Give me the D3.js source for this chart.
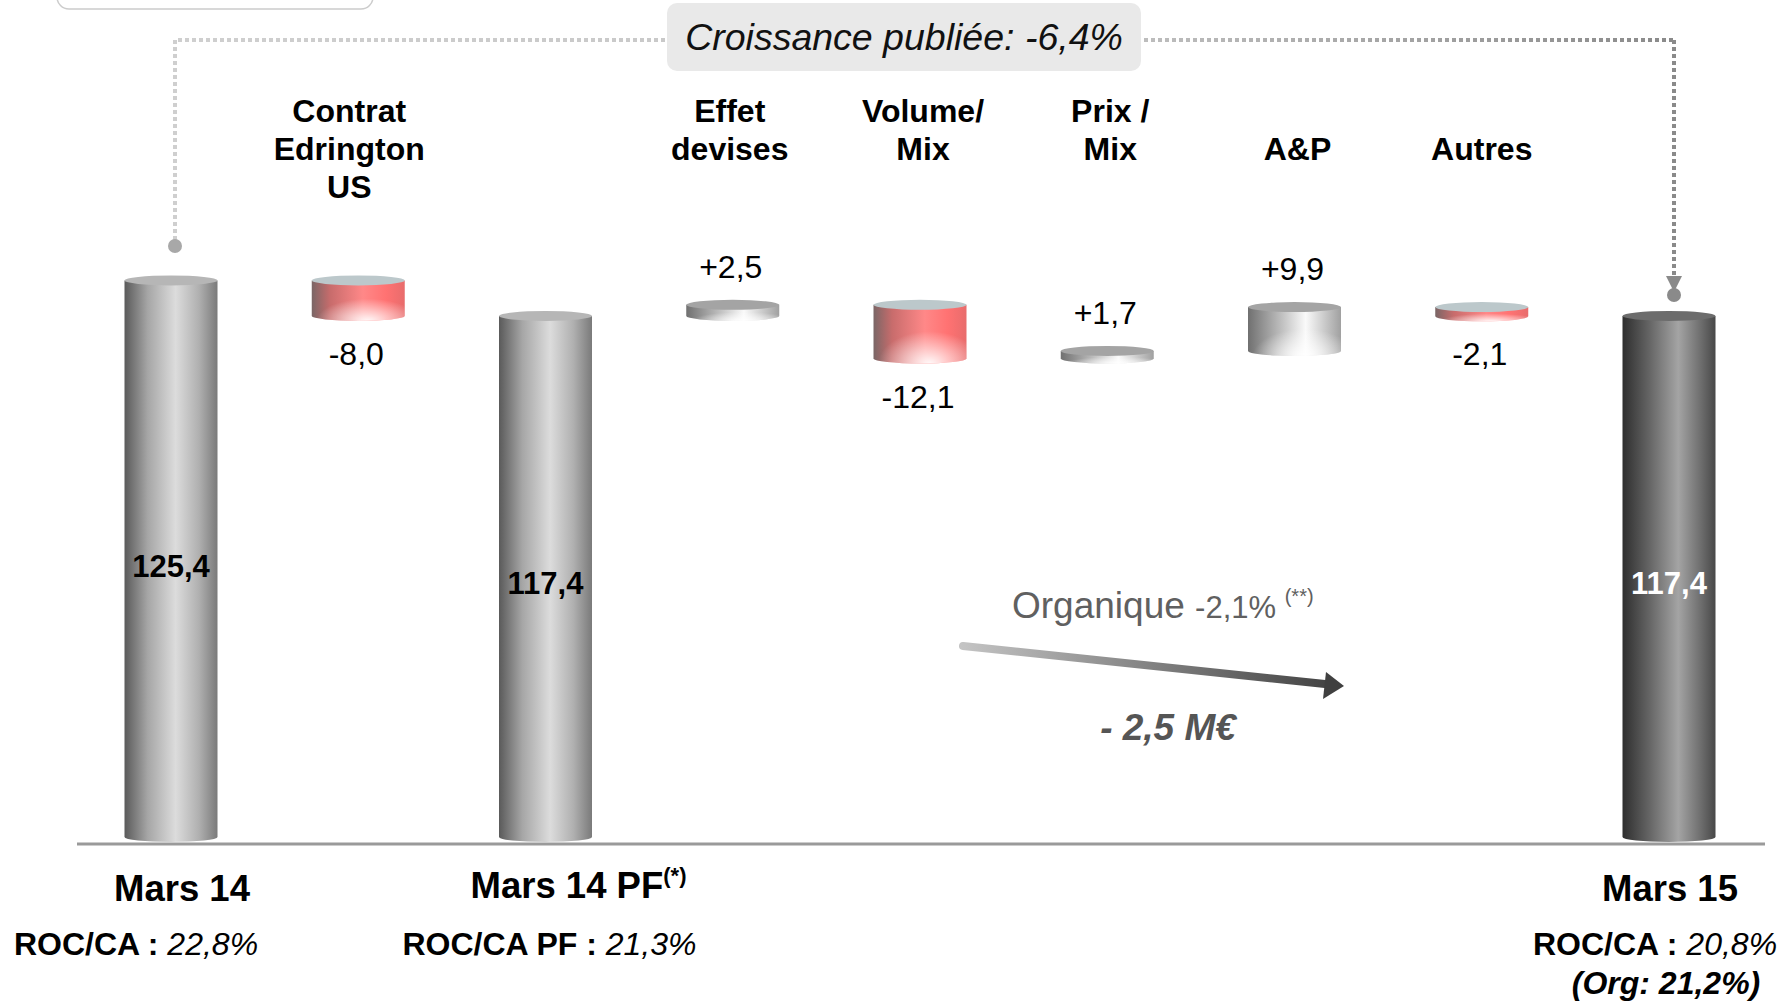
<!DOCTYPE html>
<html>
<head>
<meta charset="utf-8">
<script src="https://cdn.jsdelivr.net/npm/d3@7"></script>
<style>
  html, body { margin: 0; padding: 0; background: #fff; }
  svg { display: block; font-family: "Liberation Sans", Arial, sans-serif; }
</style>
</head>
<body>
<svg id="chart" width="1791" height="1001"></svg>
<script>
// Bridge of operating profit (M€), March 14 -> March 15
const categories = ["Mars 14", "Contrat Edrington US", "Mars 14 PF", "Effet devises",
                    "Volume/ Mix", "Prix / Mix", "A&P", "Autres", "Mars 15"];
const kinds  = ["total", "delta", "total", "delta", "delta", "delta", "delta", "delta", "final"];
const values = [125.4, -8.0, 117.4, 2.5, -12.1, 1.7, 9.9, -2.1, 117.4];

const headerLines = [[], ["Contrat", "Edrington", "US"], [], ["Effet", "devises"],
                     ["Volume/", "Mix"], ["Prix /", "Mix"], ["", "A&P"], ["", "Autres"], []];

const footerTitles = [
  { cat: "Mars 14",    text: "Mars 14",    sup: "" },
  { cat: "Mars 14 PF", text: "Mars 14 PF", sup: "(*)" },
  { cat: "Mars 15",    text: "Mars 15",    sup: "" }
];
const ratioLabels = [
  { cat: "Mars 14",    bold: "ROC/CA : ",    ital: "22,8%" },
  { cat: "Mars 14 PF", bold: "ROC/CA PF : ", ital: "21,3%" },
  { cat: "Mars 15",    bold: "ROC/CA : ",    ital: "20,8%" }
];
const organicNote   = "(Org: 21,2%)";
const publishedText = "Croissance publiée: -6,4%";
const organicText   = ["Organique", "-2,1%", "(**)"];
const organicAmount = "- 2,5 M€";

const fr = d3.formatLocale({ decimal: ",", thousands: " ", grouping: [3], currency: ["", " €"], minus: "-" });
const fmtTotal = fr.format(".1f");
const fmtDelta = fr.format("+.1f");

const svg = d3.select("#chart");
const defs = svg.append("defs");

const y = d3.scaleLinear().domain([0, 130]).range([837, 260]);
const x = d3.scalePoint().domain(categories).range([171, 1669]);
const BW = 93, RY = 5;

// waterfall steps
let running = 0;
const steps = categories.map((c, i) => {
  let start, end;
  if (kinds[i] === "delta") { start = running; end = running + values[i]; }
  else { start = 0; end = values[i]; }
  running = end;
  const type = kinds[i] === "delta" ? (values[i] < 0 ? "neg" : "pos") : kinds[i];
  return { cat: c, i, start, end, value: values[i], type };
});

// gradients
function hGrad(id, stops) {
  const g = defs.append("linearGradient").attr("id", id)
    .attr("x1", 0).attr("x2", 1).attr("y1", 0).attr("y2", 0);
  stops.forEach(([o, c]) => g.append("stop").attr("offset", o).attr("stop-color", c));
}
hGrad("g-total", [[0, "#5a5a5a"], [0.25, "#a6a6a6"], [0.55, "#dcdcdc"], [0.8, "#b0b0b0"], [1, "#7a7a7a"]]);
hGrad("g-final", [[0, "#2e2e2e"], [0.3, "#676767"], [0.6, "#a4a4a4"], [0.85, "#6c6c6c"], [1, "#484848"]]);
hGrad("g-pos",   [[0, "#707070"], [0.35, "#bdbdbd"], [0.62, "#fafafa"], [1, "#a0a0a0"]]);
hGrad("g-neg",   [[0, "#7a6666"], [0.2, "#c86c6c"], [0.55, "#ff8888"], [0.8, "#ff7272"], [1, "#e86c6c"]]);
const rg = defs.append("radialGradient").attr("id", "g-glow")
  .attr("cx", 0.6).attr("cy", 1).attr("r", 0.55);
rg.append("stop").attr("offset", 0).attr("stop-color", "#fff").attr("stop-opacity", 0.95);
rg.append("stop").attr("offset", 1).attr("stop-color", "#fff").attr("stop-opacity", 0);
const topColor = { total: "#b6b6b6", final: "#6c6c6c", pos: "#a4a4a4", neg: "#bcc8cb" };

function bodyPath(cx, yTop, yBot) {
  const l = cx - BW / 2, r = cx + BW / 2;
  return `M${l},${yTop} L${l},${yBot} A${BW / 2},${RY} 0 0 0 ${r},${yBot} L${r},${yTop} Z`;
}

// baseline
svg.append("line").attr("x1", 77).attr("x2", 1765).attr("y1", 844).attr("y2", 844)
  .attr("stroke", "#9a9a9a").attr("stroke-width", 3);

// cylinders
const bars = svg.append("g").selectAll("g").data(steps).join("g");
bars.each(function (d) {
  const g = d3.select(this);
  const cx = x(d.cat);
  const yTop = y(Math.max(d.start, d.end));
  const yBot = y(Math.min(d.start, d.end));
  g.append("path").attr("d", bodyPath(cx, yTop, yBot)).attr("fill", `url(#g-${d.type})`);
  if (d.type === "pos" || d.type === "neg") {
    g.append("path").attr("d", bodyPath(cx, yTop, yBot)).attr("fill", "url(#g-glow)");
  }
  g.append("ellipse").attr("cx", cx).attr("cy", yTop).attr("rx", BW / 2).attr("ry", RY)
    .attr("fill", topColor[d.type]);
});

// values on totals
svg.append("g").selectAll("text").data(steps.filter(d => d.type === "total" || d.type === "final")).join("text")
  .attr("x", d => x(d.cat)).attr("y", d => (y(d.end) + y(0)) / 2 + 18)
  .attr("text-anchor", "middle").attr("font-size", 31).attr("font-weight", "bold")
  .attr("fill", d => d.type === "final" ? "#fff" : "#000")
  .text(d => fmtTotal(d.value));

// values on deltas
svg.append("g").selectAll("text").data(steps.filter(d => d.type === "pos" || d.type === "neg")).join("text")
  .attr("x", d => x(d.cat) - 2)
  .attr("y", d => d.value >= 0 ? y(d.end) - RY - 22 : y(d.end) + RY + 44)
  .attr("text-anchor", "middle").attr("font-size", 32).attr("fill", "#000")
  .text(d => fmtDelta(d.value));

// category headers
const hdr = svg.append("g");
const headerShift = [0, -9, 0, -3, 3, 3, 3, 0, 0];
categories.forEach((c, i) => {
  headerLines[i].forEach((line, k) => {
    if (!line) return;
    hdr.append("text").attr("x", x(c) + headerShift[i]).attr("y", 122 + k * 38)
      .attr("text-anchor", "middle").attr("font-size", 32).attr("font-weight", "bold")
      .attr("fill", "#000").text(line);
  });
});

// footer titles
const ft = svg.append("g");
footerTitles.forEach(f => {
  const offs = f.sup ? 33 : (f.cat === "Mars 15" ? 1 : 11);
  const t = ft.append("text").attr("x", x(f.cat) + offs).attr("y", f.sup ? 898 : 901)
    .attr("text-anchor", "middle").attr("font-size", 36.5).attr("font-weight", "bold").attr("fill", "#000");
  t.append("tspan").text(f.text);
  if (f.sup) t.append("tspan").attr("font-size", 22).attr("dy", -15).text(f.sup);
});
ratioLabels.forEach((r, i) => {
  const offs = [-35, 4, -14][i];
  const t = ft.append("text").attr("x", x(r.cat) + offs).attr("y", 955)
    .attr("text-anchor", "middle").attr("font-size", 32).attr("fill", "#000");
  t.append("tspan").attr("font-weight", "bold").text(r.bold);
  t.append("tspan").attr("font-style", "italic").text(r.ital);
});
ft.append("text").attr("x", x("Mars 15") - 3).attr("y", 994)
  .attr("text-anchor", "middle").attr("font-size", 32).attr("font-weight", "bold")
  .attr("font-style", "italic").attr("fill", "#000").text(organicNote);

// published growth connector
const lx = x("Mars 14") + 4, rx = x("Mars 15") + 5, topY = 40;
const lg = defs.append("linearGradient").attr("id", "g-conn").attr("gradientUnits", "userSpaceOnUse")
  .attr("x1", lx).attr("x2", rx).attr("y1", 0).attr("y2", 0);
lg.append("stop").attr("offset", 0).attr("stop-color", "#cfcfcf");
lg.append("stop").attr("offset", 0.6).attr("stop-color", "#c4c4c4");
lg.append("stop").attr("offset", 1).attr("stop-color", "#8a8a8a");
svg.append("path").attr("d", `M${lx},240 L${lx},${topY} L${rx},${topY}`)
  .attr("fill", "none").attr("stroke", "url(#g-conn)").attr("stroke-width", 4).attr("stroke-dasharray", "4 3");
svg.append("path").attr("d", `M${rx},${topY} L${rx},276`)
  .attr("fill", "none").attr("stroke", "#8a8a8a").attr("stroke-width", 4).attr("stroke-dasharray", "4 3");
svg.append("path").attr("d", `M${rx - 8},276 L${rx + 8},276 L${rx},292 Z`).attr("fill", "#8a8a8a");
svg.append("circle").attr("cx", lx).attr("cy", 246).attr("r", 7).attr("fill", "#a8a8a8");
svg.append("circle").attr("cx", rx).attr("cy", 295).attr("r", 7).attr("fill", "#8a8a8a");
svg.append("rect").attr("x", 667).attr("y", 3).attr("width", 474).attr("height", 68).attr("rx", 10)
  .attr("fill", "#e9e9e9");
svg.append("text").attr("x", 904).attr("y", 50).attr("text-anchor", "middle")
  .attr("font-size", 37.5).attr("font-style", "italic").attr("fill", "#111").text(publishedText);

// frame remnant at top left
svg.append("rect").attr("x", 57).attr("y", -40).attr("width", 316).attr("height", 49).attr("rx", 12)
  .attr("fill", "none").attr("stroke", "#cccccc").attr("stroke-width", 1.5);

// organic arrow
const ag = defs.append("linearGradient").attr("id", "g-arrow").attr("gradientUnits", "userSpaceOnUse")
  .attr("x1", 962).attr("x2", 1344).attr("y1", 0).attr("y2", 0);
ag.append("stop").attr("offset", 0).attr("stop-color", "#c4c4c4");
ag.append("stop").attr("offset", 1).attr("stop-color", "#3e3e3e");
svg.append("line").attr("x1", 963).attr("y1", 646).attr("x2", 1325).attr("y2", 684)
  .attr("stroke", "url(#g-arrow)").attr("stroke-width", 8).attr("stroke-linecap", "round");
svg.append("path").attr("d", "M1344,686 L1323,699 L1326,672 Z").attr("fill", "#404040");

const ot = svg.append("text").attr("x", 1012).attr("y", 618).attr("fill", "#606060");
ot.append("tspan").attr("font-size", 37).text(organicText[0] + " ");
ot.append("tspan").attr("font-size", 31).text(organicText[1] + " ");
ot.append("tspan").attr("font-size", 20).attr("dy", -15).text(organicText[2]);
svg.append("text").attr("x", 1168).attr("y", 740).attr("text-anchor", "middle")
  .attr("font-size", 37).attr("font-weight", "bold").attr("font-style", "italic")
  .attr("fill", "#555").text(organicAmount);
</script>
</body>
</html>
